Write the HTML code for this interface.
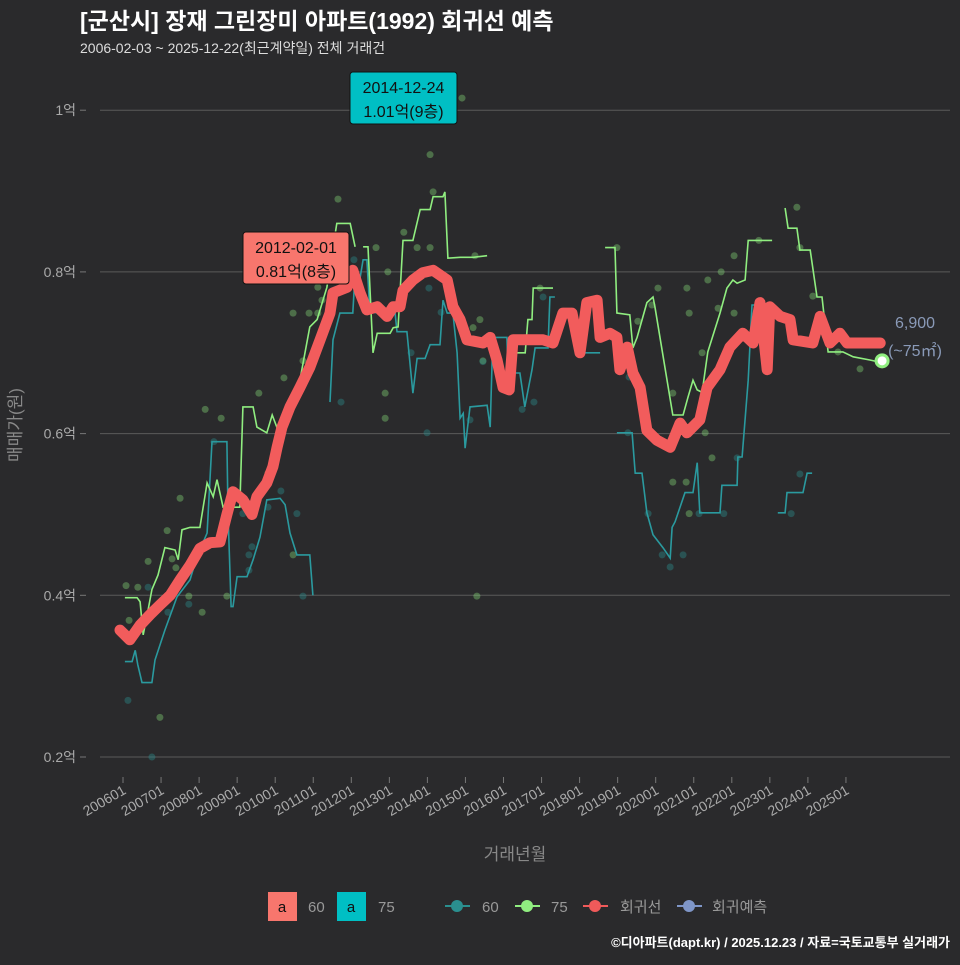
<!DOCTYPE html>
<html><head><meta charset="utf-8">
<style>
body{margin:0;background:#2a2a2c;}
svg text{font-family:"Liberation Sans","Noto Sans CJK KR",sans-serif;}
</style></head>
<body>
<svg id="chart" width="960" height="960" xmlns="http://www.w3.org/2000/svg">
<rect width="960" height="960" fill="#2a2a2c"/>
<text x="80" y="29" fill="#ffffff" font-size="23" font-weight="bold">[군산시] 장재 그린장미 아파트(1992) 회귀선 예측</text>
<text x="80" y="53" fill="#dddddd" font-size="14">2006-02-03 ~ 2025-12-22(최근계약일) 전체 거래건</text>
<g id="grid"></g>
<g id="pts"></g>
<g id="lines"></g>
<g id="axes"></g>
<text transform="translate(21,425) rotate(-90)" text-anchor="middle" fill="#888" font-size="17">매매가(원)</text>
<text x="515" y="860" text-anchor="middle" fill="#888" font-size="17">거래년월</text>
<g>
<rect x="268" y="892" width="29" height="29" fill="#f8766d"/><text x="282" y="912" text-anchor="middle" font-size="15" fill="#111">a</text>
<text x="308" y="912" font-size="15" fill="#999">60</text>
<rect x="337" y="892" width="29" height="29" fill="#00bfc4"/><text x="351" y="912" text-anchor="middle" font-size="15" fill="#111">a</text>
<text x="378" y="912" font-size="15" fill="#999">75</text>
<line x1="445" y1="906" x2="470" y2="906" stroke="#2a8f8f" stroke-width="2"/><circle cx="457" cy="906" r="6" fill="#2a8f8f"/>
<text x="482" y="912" font-size="15" fill="#999">60</text>
<line x1="515" y1="906" x2="540" y2="906" stroke="#90ee80" stroke-width="2"/><circle cx="527" cy="906" r="6" fill="#90ee80"/>
<text x="551" y="912" font-size="15" fill="#999">75</text>
<line x1="583" y1="906" x2="608" y2="906" stroke="#f05a5a" stroke-width="2"/><circle cx="595" cy="906" r="6" fill="#f05a5a"/>
<text x="620" y="912" font-size="15" fill="#999">회귀선</text>
<line x1="677" y1="906" x2="702" y2="906" stroke="#7f96c8" stroke-width="2"/><circle cx="689" cy="906" r="6" fill="#7f96c8"/>
<text x="712" y="912" font-size="15" fill="#999">회귀예측</text>
</g>
<text x="950" y="947" text-anchor="end" fill="#ffffff" font-size="13" font-weight="bold">©디아파트(dapt.kr) / 2025.12.23 / 자료=국토교통부 실거래가</text>
</svg>
<script>
const yTicks=[0.2,0.4,0.6,0.8,1.0];
const yTickLabels=["0.2억","0.4억","0.6억","0.8억","1억"];
const xTicks=[2006,2007,2008,2009,2010,2011,2012,2013,2014,2015,2016,2017,2018,2019,2020,2021,2022,2023,2024,2025];
const xTickLabels=["200601","200701","200801","200901","201001","201101","201201","201301","201401","201501","201601","201701","201801","201901","202001","202101","202201","202301","202401","202501"];
const regT=[2005.92,2006.18,2006.45,2006.71,2006.97,2007.24,2007.5,2007.76,2008.02,2008.29,2008.55,2008.73,2008.89,2009.15,2009.39,2009.52,2009.78,2009.94,2010.05,2010.18,2010.39,2010.65,2010.91,2011.18,2011.44,2011.52,2011.89,2012.04,2012.23,2012.41,2012.68,2012.94,2013.1,2013.28,2013.36,2013.62,2013.88,2014.15,2014.52,2014.67,2014.86,2015.04,2015.46,2015.65,2015.83,2015.99,2016.15,2016.25,2017.04,2017.3,2017.56,2017.8,2018.01,2018.19,2018.46,2018.54,2018.8,2018.98,2019.06,2019.25,2019.4,2019.59,2019.77,2020.03,2020.38,2020.64,2020.82,2021.16,2021.35,2021.69,2021.95,2022.29,2022.56,2022.74,2022.93,2023.0,2023.27,2023.53,2023.61,2024.13,2024.32,2024.58,2024.84,2025.03,2025.9];
const regV=[.357,.345,.363,.376,.388,.40,.419,.437,.458,.465,.466,.50,.528,.518,.50,.522,.539,.559,.583,.608,.633,.657,.682,.716,.749,.774,.781,.802,.774,.753,.757,.745,.757,.757,.777,.79,.799,.802,.79,.757,.741,.716,.712,.719,.691,.657,.654,.716,.716,.712,.749,.749,.70,.762,.765,.719,.724,.719,.679,.707,.675,.657,.604,.592,.583,.613,.601,.617,.657,.679,.707,.724,.712,.762,.679,.757,.745,.741,.716,.712,.745,.712,.724,.712,.712];
const g75T=[[2006.05,2006.37,2006.45,2006.53,2006.66,2006.76,2006.92,2007.10,2007.37,2007.45,2007.55,2007.76,2008.02,2008.21,2008.37,2008.47,2008.63,2009.07,2009.15,2009.42,2009.52,2009.78,2009.92,2010.05,2010.18,2010.39,2010.65,2010.91,2011.10,2011.36,2011.62,2011.97,2012.10],[2012.31,2012.44,2012.57,2012.68,2013.02,2013.10,2013.23,2013.36,2013.62,2013.81,2014.07,2014.15,2014.41,2014.46,2014.54,2014.86,2015.20,2015.57],[2016.09,2016.57,2016.64,2016.75,2016.78,2017.30],[2018.67,2018.93,2018.98,2019.32,2019.40,2019.51,2019.77,2019.93,2019.98,2020.45,2020.72,2020.85,2020.98,2021.09,2021.22,2021.37,2021.69,2021.87,2022.03,2022.14,2022.35,2022.43,2023.06],[2023.40,2023.48,2023.71,2023.79,2024.06,2024.24,2024.37,2024.53,2024.92,2025.19,2025.63,2025.82]];
const g75V=[[.397,.397,.392,.351,.382,.407,.425,.459,.456,.444,.481,.484,.484,.539,.522,.543,.509,.509,.633,.633,.608,.601,.623,.607,.608,.645,.666,.732,.741,.781,.860,.860,.831],[.831,.831,.700,.724,.724,.731,.732,.839,.839,.877,.877,.893,.893,.899,.817,.818,.818,.820],[.700,.700,.741,.741,.780,.780],[.830,.830,.749,.747,.706,.719,.762,.769,.757,.623,.623,.645,.666,.654,.651,.701,.749,.780,.790,.786,.790,.839,.839],[.879,.854,.854,.827,.827,.769,.769,.701,.701,.695,.691,.689]];
const g60T=[[2006.05,2006.24,2006.32,2006.39,2006.50,2006.76,2006.84,2007.10,2007.42,2007.76,2007.94,2008.21,2008.34,2008.73,2008.76,2008.84,2008.89,2009.00,2009.26,2009.42,2009.60,2009.78,2010.13,2010.26,2010.39,2010.57,2010.91,2010.99],[2011.44,2011.52,2011.70,2012.04,2012.10,2012.18,2012.31,2012.41,2012.49,2012.83,2013.15,2013.20,2013.46,2013.62,2013.73,2013.94,2014.07,2014.33,2014.41,2014.52,2014.67,2014.78,2014.86,2014.94,2014.99,2015.12,2015.57,2015.65,2015.72,2016.09,2016.12,2016.43,2016.56,2016.75,2016.83,2017.17,2017.22,2017.35],[2017.93,2018.54],[2018.98,2019.38,2019.46,2019.64,2019.77,2019.93,2020.19,2020.38,2020.43,2020.51,2020.77,2020.98,2021.09,2021.16,2021.69,2021.74,2022.14,2022.16,2022.27,2022.43,2022.53,2023.00],[2023.21,2023.40,2023.45,2023.87,2023.98,2024.11]];
const g60V=[[.318,.318,.332,.314,.292,.292,.320,.357,.398,.419,.447,.477,.590,.590,.502,.386,.386,.423,.423,.444,.472,.518,.520,.512,.477,.450,.450,.400],[.639,.716,.749,.749,.799,.778,.815,.815,.750,.749,.749,.726,.726,.650,.693,.693,.710,.710,.765,.749,.749,.700,.619,.625,.582,.633,.635,.608,.719,.719,.675,.675,.633,.679,.706,.706,.769,.769],[.700,.700],[.601,.601,.551,.551,.502,.475,.459,.446,.484,.491,.527,.527,.564,.502,.502,.536,.536,.571,.571,.666,.759,.759],[.502,.502,.527,.527,.551,.551]];
const p75T=[2011.65,2014.15,2013.38,2013.73,2014.07,2012.65,2012.96,2010.47,2010.89,2011.12,2011.12,2011.23,2015.38,2015.20,2015.46,2015.25,2010.23,2009.57,2008.16,2008.58,2012.89,2012.89,2010.73,2009.81,2007.50,2007.16,2006.66,2007.29,2007.39,2006.08,2006.39,2006.16,2007.73,2008.08,2008.73,2010.47,2015.30,2014.07,2014.91,2006.97,2018.98,2016.96,2020.06,2020.82,2019.53,2019.90,2020.88,2021.37,2021.72,2022.06,2021.64,2022.06,2021.22,2020.45,2021.30,2021.48,2020.45,2020.80,2020.88,2023.71,2023.79,2024.13,2025.37,2024.79,2022.71];
const p75V=[.890,.899,.849,.830,.830,.830,.800,.749,.749,.749,.781,.765,.741,.731,.690,.820,.669,.650,.630,.619,.650,.619,.690,.551,.520,.480,.442,.445,.434,.412,.410,.369,.399,.379,.399,.450,.399,.945,1.015,.249,.830,.780,.780,.780,.739,.759,.749,.790,.800,.820,.755,.749,.700,.650,.601,.570,.540,.540,.501,.880,.830,.770,.680,.701,.839];
const p60T=[2017.04,2016.49,2016.80,2019.27,2019.80,2020.17,2020.72,2020.38,2021.14,2021.79,2022.14,2022.74,2023.79,2023.56,2019.30,2012.07,2011.73,2014.04,2013.57,2013.99,2014.36,2015.12,2015.46,2008.39,2009.15,2009.39,2009.31,2009.31,2010.57,2010.15,2009.81,2007.73,2006.66,2007.18,2010.73,2006.13,2006.76];
const p60V=[.769,.630,.639,.601,.501,.450,.450,.435,.501,.501,.570,.759,.550,.501,.670,.815,.639,.780,.700,.601,.750,.617,.689,.590,.501,.460,.450,.431,.501,.529,.509,.389,.410,.379,.399,.270,.200];
const lastT=2025.95, lastV=0.69;

const NS="http://www.w3.org/2000/svg";
const X=t=>123+(t-2006)*38.05;
const Y=v=>757-(v-0.2)*808.5;
function mk(tag,attrs,parent){const e=document.createElementNS(NS,tag);for(const k in attrs)e.setAttribute(k,attrs[k]);document.getElementById(parent).appendChild(e);return e;}

yTicks.forEach((v,i)=>{
  const l=mk('line',{x1:100,x2:950,y1:Y(v),y2:Y(v),stroke:'#5a5a5a','stroke-width':1},'grid');
  
  
  const t=mk('text',{x:76,y:Y(v)+5,'text-anchor':'end',fill:'#aaa','font-size':14},'axes');
  t.textContent=yTickLabels[i];
  
  
  const tk=mk('line',{x1:80,x2:86,y1:Y(v),y2:Y(v),stroke:'#777'},'axes');
  
  
});
xTicks.forEach((yr,i)=>{
  const x=X(yr);
  const tk=mk('line',{x1:x,x2:x,y1:777,y2:783,stroke:'#777'},'axes');
  
  
  const t=mk('text',{x:x+4,y:793,'text-anchor':'end',fill:'#aaa','font-size':14,transform:`rotate(-30 ${x+4} 793)`},'axes');
  t.textContent=xTickLabels[i];
  
  
});
p75T.forEach((t,i)=>{
  const c=mk('circle',{cx:X(t),cy:Y(p75V[i]),r:3.5,fill:'#90ee80','fill-opacity':0.35},'pts');
  
  
});
p60T.forEach((t,i)=>{
  const c=mk('circle',{cx:X(t),cy:Y(p60V[i]),r:3.5,fill:'#2a8f8f','fill-opacity':0.4},'pts');
  
  
});
function path(ts,vs){return ts.map((t,i)=>(i?'L':'M')+X(t).toFixed(1)+','+Y(vs[i]).toFixed(1)).join('');}
g60T.forEach((ts,s)=>{
  const p=mk('path',{d:path(ts,g60V[s]),fill:'none',stroke:'#2a9a9f','stroke-width':1.6},'lines');
  
  
});
g75T.forEach((ts,s)=>{
  const p=mk('path',{d:path(ts,g75V[s]),fill:'none',stroke:'#90ee80','stroke-width':1.6},'lines');
  
  
});
const rp=mk('path',{d:path(regT,regV),fill:'none',stroke:'#f25c5c','stroke-width':11,'stroke-linejoin':'round','stroke-linecap':'round'},'lines');


const lm=mk('circle',{cx:X(lastT),cy:Y(lastV),r:6,fill:'#ffffff',stroke:'#90ee80','stroke-width':3},'lines');


const l1=mk('text',{x:915,y:328,'text-anchor':'middle',fill:'#8a9ab8','font-size':16},'lines');
l1.textContent='6,900';


const l2=mk('text',{x:915,y:356,'text-anchor':'middle',fill:'#8a9ab8','font-size':16},'lines');
l2.textContent='(~75㎡)';


function callout(name,x,y,w,fill,a,b){
  const g=mk('g',{},'lines');
  
  
  const r=document.createElementNS(NS,'rect');
  r.setAttribute('x',x);r.setAttribute('y',y);r.setAttribute('width',w);r.setAttribute('height',52);r.setAttribute('rx',3);r.setAttribute('fill',fill);r.setAttribute('stroke','#111');
  g.appendChild(r);
  [a,b].forEach((s,i)=>{const t=document.createElementNS(NS,'text');t.setAttribute('x',x+w/2);t.setAttribute('y',y+21+i*24);t.setAttribute('text-anchor','middle');t.setAttribute('font-size',16);t.setAttribute('fill','#111');t.textContent=s;g.appendChild(t);});
}
callout('max-callout',350,72,107,'#00bfc4','2014-12-24','1.01억(9층)');
callout('peak-callout',243,232,106,'#f8766d','2012-02-01','0.81억(8층)');
</script>
</body></html>
